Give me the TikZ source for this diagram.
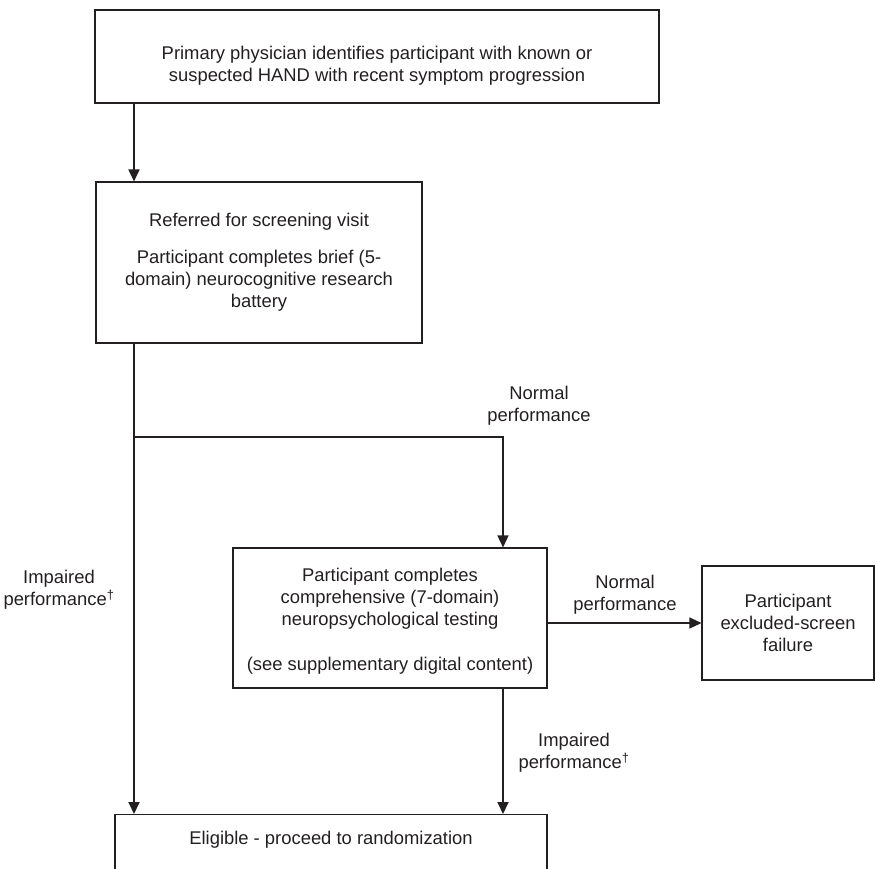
\documentclass[tikz,border=0pt]{standalone}
\usepackage{fontspec}
\setmainfont{Liberation Sans}
\usetikzlibrary{positioning,arrows.meta}
\definecolor{ink}{RGB}{35,31,32}

\begin{document}
\begin{tikzpicture}[x=1pt,y=-1pt,>={Triangle[width=11pt,length=12pt]},
    every node/.style={font=\fontsize{18.4}{22}\selectfont,text=ink},
    flowbox/.style={draw=ink,line width=1.1pt,align=center,inner sep=0pt},
    flow/.style={draw=ink,line width=1.8pt},
    note/.style={align=center,inner sep=0pt}]
    \useasboundingbox (0,0) rectangle (875,868);
    % boxes
    \node[flowbox,minimum width=564pt,minimum height=93pt] (prim) at (377,56.5) {\rule{0pt}{32pt}Primary physician identifies participant with known or\\suspected HAND with recent symptom progression};
    \node[flowbox,minimum width=326pt,minimum height=161pt] (screen) at (259,262.5) {Referred for screening visit\\[15pt]Participant completes brief (5-\\domain) neurocognitive research\\battery};
    \node[flowbox,minimum width=314pt,minimum height=140pt] (comp) at (390,618) {\rule{0pt}{20pt}Participant completes\\comprehensive (7-domain)\\neuropsychological testing\\[23pt](see supplementary digital content)};
    \node[flowbox,minimum width=172pt,minimum height=114pt] (excl) at (788,623) {Participant\\excluded-screen\\failure};
    \node[flowbox,minimum width=432pt,anchor=north,text height=30pt,text depth=30pt] (elig) at (331,814) {Eligible - proceed to randomization};
    % branch points
    \coordinate (split) at (134,437);
    \coordinate (turn) at (503,437);
    % connectors
    \draw[flow,->] (prim.south -| split) -- (screen.north -| split);
    \draw[flow,->] (screen.south -| split) -- (elig.north -| split);
    \draw[flow,line width=1.3pt,->] (split) -- (turn) -- (comp.north -| turn);
    \draw[flow,line width=1.3pt,->] (excl.west -| comp.east) -- (excl.west);
    \draw[flow,->] (comp.south -| turn) -- (elig.north -| turn);
    % labels
    \node[note] (normal1) at (539,406) {Normal\\performance};
    \node[note] (normal2) at (625,595) {Normal\\performance};
    \node[note] (impaired1) at (59,590) {Impaired\\performance\textsuperscript{\textdagger}};
    \node[note] (impaired2) at (574,753) {Impaired\\performance\textsuperscript{\textdagger}};
\end{tikzpicture}
\end{document}
